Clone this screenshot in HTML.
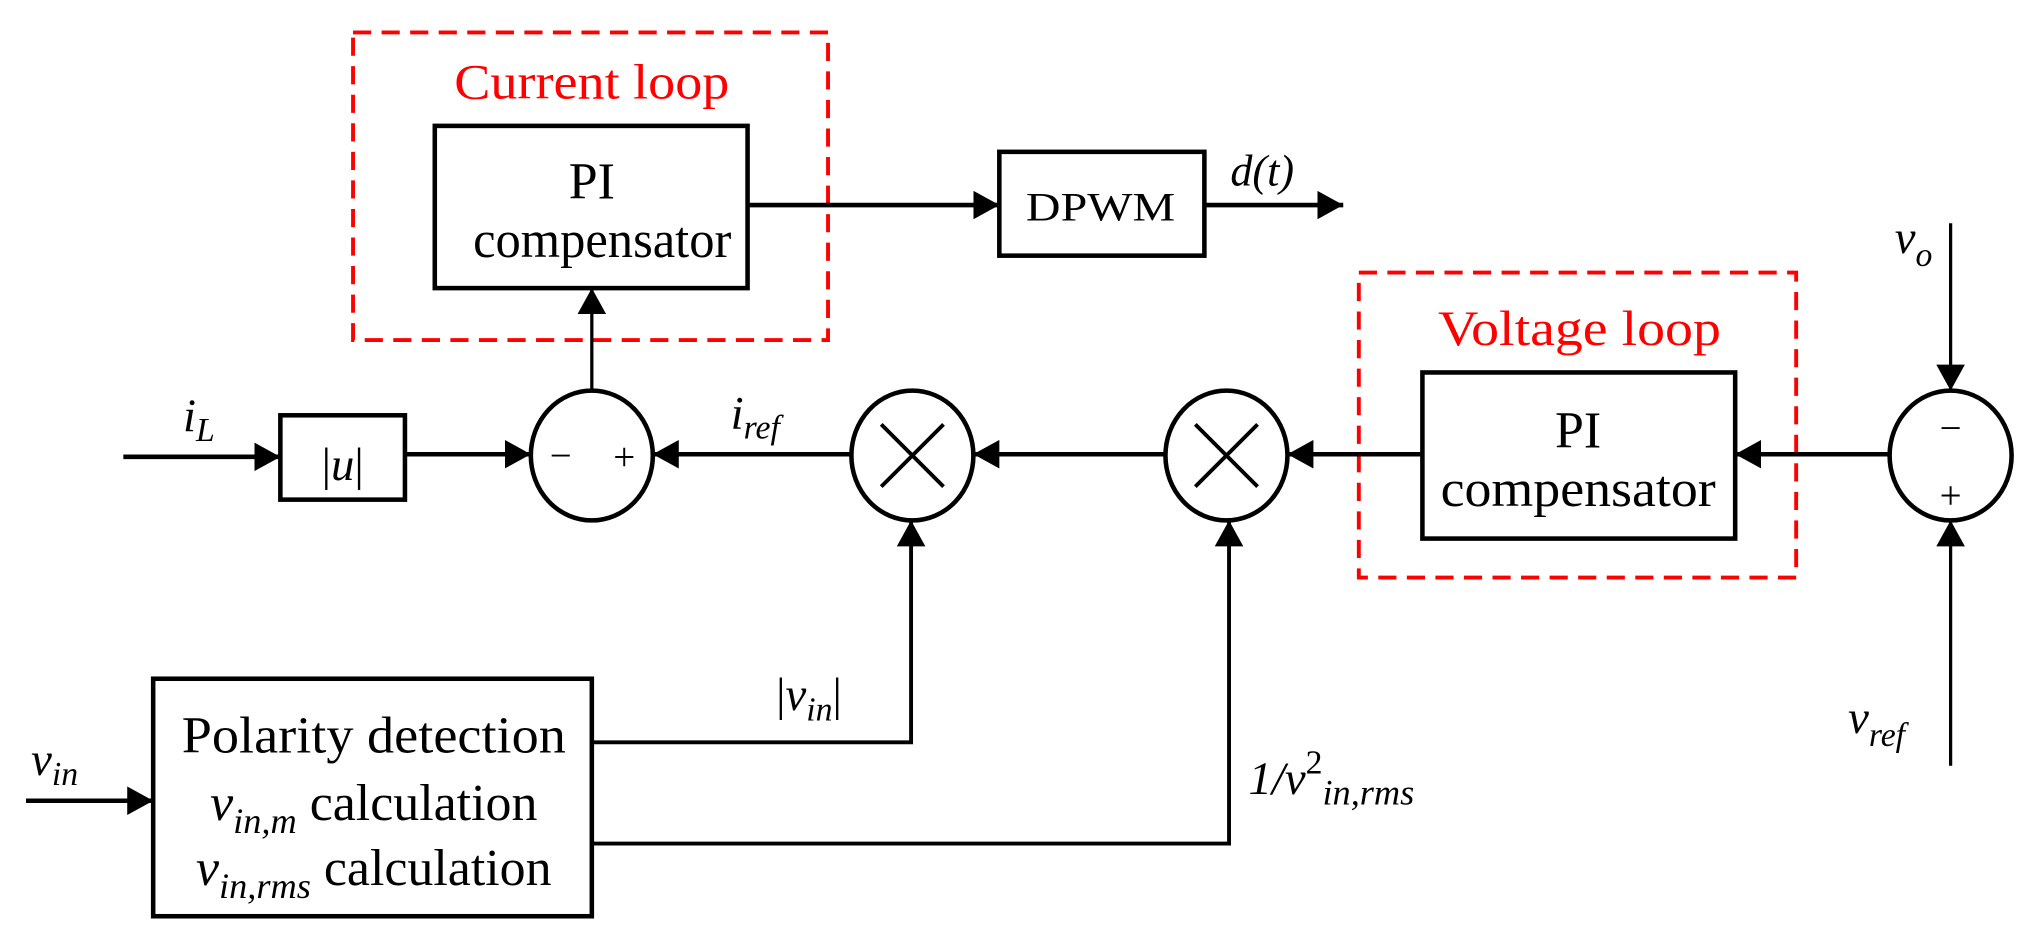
<!DOCTYPE html>
<html><head><meta charset="utf-8"><style>
html,body{margin:0;padding:0;background:#fff;width:2035px;height:937px;overflow:hidden}
svg{display:block}
text{font-family:"Liberation Serif",serif;fill:#000}
.i{font-style:italic}
.r{fill:#f00}
</style></head><body>
<svg width="2035" height="937" viewBox="0 0 1568 722" xmlns="http://www.w3.org/2000/svg">
<defs>
<marker id="a" viewBox="0 0 10 10" refX="10" refY="5" markerWidth="20" markerHeight="22" markerUnits="userSpaceOnUse" orient="auto" preserveAspectRatio="none"><path d="M0,0 L10,5 L0,10 z" fill="#000"/></marker>
</defs>
<rect x="272" y="25" width="366" height="237" fill="none" stroke="#f00" stroke-width="3" stroke-dasharray="14,8"/>
<text x="456" y="76" font-size="38" text-anchor="middle" class="r" textLength="212" lengthAdjust="spacingAndGlyphs">Current loop</text>
<rect x="1047" y="210" width="337" height="235" fill="none" stroke="#f00" stroke-width="3" stroke-dasharray="14,8"/>
<text x="1217" y="266" font-size="38" text-anchor="middle" class="r" textLength="218" lengthAdjust="spacingAndGlyphs">Voltage loop</text>

<g fill="none" stroke="#000">
<rect x="335" y="97" width="241" height="125" stroke-width="3.5"/>
<rect x="770" y="117" width="158" height="80" stroke-width="3.5"/>
<rect x="1096" y="287" width="241" height="128" stroke-width="3.5"/>
<rect x="216" y="320" width="96" height="65" stroke-width="3.5"/>
<rect x="118" y="523" width="338" height="183" stroke-width="3.5"/>
<ellipse cx="456" cy="351" rx="47" ry="50" stroke-width="3.5"/>
<ellipse cx="703" cy="351" rx="47" ry="50" stroke-width="3.5"/>
<ellipse cx="945" cy="351" rx="47" ry="50" stroke-width="3.5"/>
<ellipse cx="1503" cy="351" rx="47" ry="50" stroke-width="3.5"/>
<path d="M679,327 L727,375 M727,327 L679,375 M921,327 L969,375 M969,327 L921,375" stroke-width="3"/>

<path d="M576,158 H770" stroke-width="3.5" marker-end="url(#a)"/>
<path d="M928,158 H1035" stroke-width="3.5" marker-end="url(#a)"/>
<path d="M95,352 H216" stroke-width="3.5" marker-end="url(#a)"/>
<path d="M312,350 H409" stroke-width="3.5" marker-end="url(#a)"/>
<path d="M656,350 H503" stroke-width="3.5" marker-end="url(#a)"/>
<path d="M898,350 H750" stroke-width="3.5" marker-end="url(#a)"/>
<path d="M1096,350 H992" stroke-width="3.5" marker-end="url(#a)"/>
<path d="M1456,350 H1337" stroke-width="3.5" marker-end="url(#a)"/>
<path d="M456,301 V222" stroke-width="2.5" marker-end="url(#a)"/>
<path d="M1503,172 V301" stroke-width="2.5" marker-end="url(#a)"/>
<path d="M1503,590 V401" stroke-width="2.5" marker-end="url(#a)"/>
<path d="M456,572 H702 V401" stroke-width="3" marker-end="url(#a)"/>
<path d="M456,650 H947 V401" stroke-width="3" marker-end="url(#a)"/>
<path d="M20,617 H118" stroke-width="3.5" marker-end="url(#a)"/>
</g>

<text x="456" y="153" font-size="40" text-anchor="middle">PI</text>
<text x="464" y="198" font-size="40" text-anchor="middle" textLength="199" lengthAdjust="spacingAndGlyphs">compensator</text>
<text x="1216" y="345" font-size="40" text-anchor="middle">PI</text>
<text x="1216" y="390" font-size="40" text-anchor="middle" textLength="212" lengthAdjust="spacingAndGlyphs">compensator</text>
<text x="848" y="170" font-size="31" text-anchor="middle" textLength="115" lengthAdjust="spacingAndGlyphs">DPWM</text>
<text x="948" y="143" font-size="34" class="i">d(t)</text>
<text x="264" y="370" font-size="36" text-anchor="middle"><tspan font-style="normal">|</tspan><tspan class="i">u</tspan><tspan font-style="normal">|</tspan></text>
<text x="432" y="361" font-size="30" text-anchor="middle">−</text>
<text x="481" y="362" font-size="30" text-anchor="middle">+</text>
<text x="1503" y="340" font-size="30" text-anchor="middle">−</text>
<text x="1503" y="392" font-size="30" text-anchor="middle">+</text>
<text x="141" y="332" font-size="36" class="i">i<tspan font-size="26" dy="8">L</tspan></text>
<text x="563" y="330" font-size="36" class="i">i<tspan font-size="26" dy="8">ref</tspan></text>
<text x="1460" y="195" font-size="36" class="i">v<tspan font-size="26" dy="10">o</tspan></text>
<text x="1424" y="565" font-size="36" class="i">v<tspan font-size="26" dy="10">ref</tspan></text>
<text x="24" y="597" font-size="36" class="i">v<tspan font-size="26" dy="8">in</tspan></text>
<text x="598" y="547" font-size="36"><tspan>|</tspan><tspan class="i">v</tspan><tspan class="i" font-size="26" dy="8">in</tspan><tspan dy="-8">|</tspan></text>
<text x="962" y="612" font-size="36" class="i">1/v<tspan font-size="26" dy="-16" font-style="normal">2</tspan><tspan font-size="28" dy="24">in,rms</tspan></text>
<text x="288" y="580" font-size="40" text-anchor="middle" textLength="296" lengthAdjust="spacingAndGlyphs">Polarity detection</text>
<text x="288" y="632" font-size="40" text-anchor="middle"><tspan class="i">v</tspan><tspan class="i" font-size="28" dy="10">in,m</tspan><tspan dy="-10"> calculation</tspan></text>
<text x="288" y="682" font-size="40" text-anchor="middle"><tspan class="i">v</tspan><tspan class="i" font-size="28" dy="10">in,rms</tspan><tspan dy="-10"> calculation</tspan></text>
</svg>
</body></html>
